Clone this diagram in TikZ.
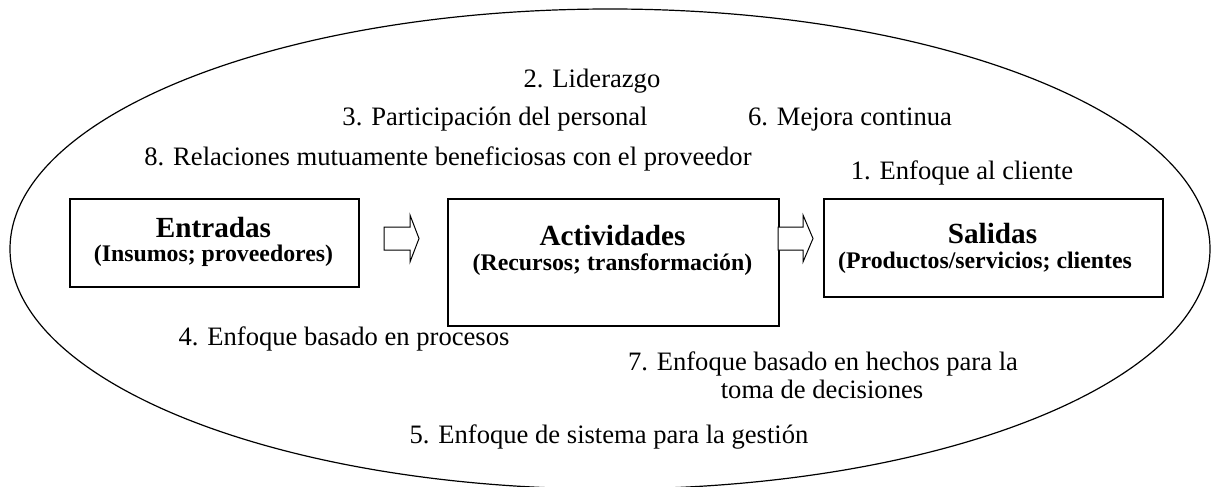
\documentclass[tikz,border=0pt]{standalone}
\usepackage{fontspec}
\setmainfont{Liberation Serif}
\usepackage{tikz}
\usetikzlibrary{positioning}

\tikzset{
  txt/.style={font=\fontsize{13.3}{16}\selectfont, inner sep=0pt, anchor=base},
  ttl/.style={font=\fontsize{14.6}{17}\selectfont\bfseries, inner sep=0pt, anchor=base},
  sub/.style={font=\fontsize{11.9}{14}\selectfont\bfseries, inner sep=0pt, anchor=base},
  box/.style={draw, line width=1pt, inner sep=0pt, anchor=north west},
  barrow/.style={draw, line width=0.5pt, fill=white}
}

\begin{document}
\begin{tikzpicture}[x=0.5pt, y=-0.5pt]
\useasboundingbox (0,0) rectangle (1211,487);
\draw[line width=0.6pt] (610,249) ellipse [x radius=600, y radius=240];

\node[box, minimum width=144.5pt, minimum height=44pt] (ent) at (69,198) {};
\node[box, minimum width=165.5pt, minimum height=63.5pt] (act) at (447,198) {};
\node[box, minimum width=169.5pt, minimum height=49pt] (sal) at (823,198) {};

\node[ttl] (entA) at (213.5,237) {Entradas};
\node[sub] (entB) at (213.5,261) {(Insumos; proveedores)};
\node[ttl] (actA) at (612.5,245) {Actividades};
\node[sub] (actB) at (612.5,270) {(Recursos; transformación)};
\node[ttl] (salA) at (992.5,243) {Salidas};
\node[sub] (salB) at (985,268) {(Productos/servicios; clientes};

\draw[barrow] (384,227) -- (410,227) -- (410,215) -- (419,238.5) -- (410,262) -- (410,250) -- (384,250) -- cycle;
\draw[barrow] (778,227) -- (803,227) -- (803,215) -- (813,238.5) -- (803,262) -- (803,250) -- (778,250) -- cycle;

\node[txt] (p2) at (592,87) {2. Liderazgo};
\node[txt] (p3) at (495,125) {3. Participación del personal};
\node[txt] (p6) at (850,125) {6. Mejora continua};
\node[txt] (p8) at (448,165) {8. Relaciones mutuamente beneficiosas con el proveedor};
\node[txt] (p1) at (962,179) {1. Enfoque al cliente};
\node[txt] (p4) at (344,345) {4. Enfoque basado en procesos};
\node[txt] (p7) at (823,370) {7. Enfoque basado en hechos para la};
\node[txt] (p7b) at (822,398) {toma de decisiones};
\node[txt] (p5) at (609,443) {5. Enfoque de sistema para la gestión};
\end{tikzpicture}
\end{document}
